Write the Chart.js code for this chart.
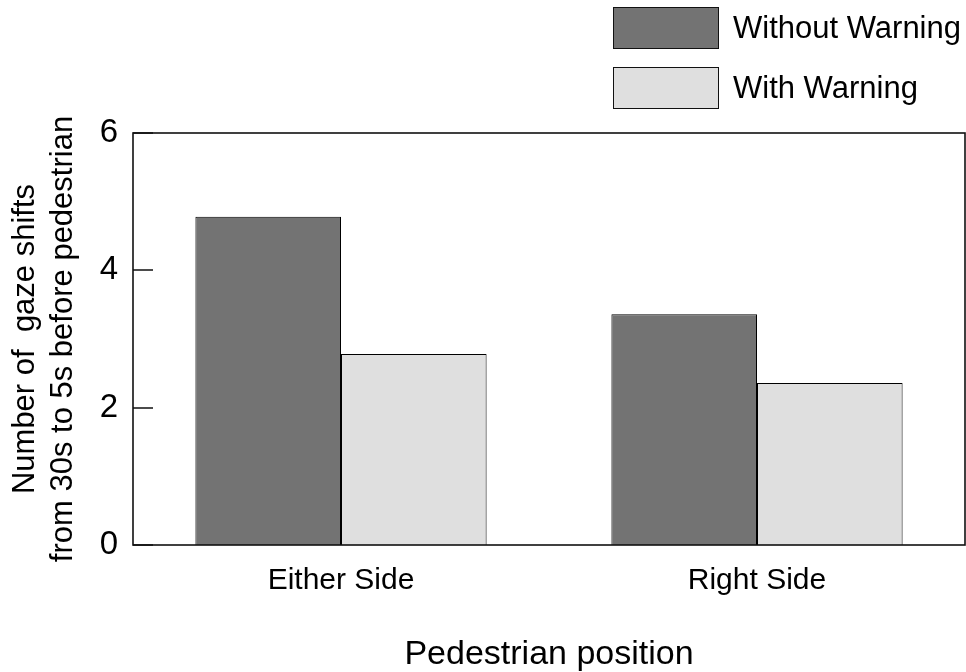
<!DOCTYPE html>
<html>
<head>
<meta charset="utf-8">
<script src="https://cdn.jsdelivr.net/npm/chart.js@4"></script>
<style>
  body { margin: 0; background: #fff; }
  canvas { display: block; }
</style>
</head>
<body>
<canvas id="chart" width="966" height="672"></canvas>
<script>
const categories = ['Either Side', 'Right Side'];
const withoutWarning = [4.78, 3.36];
const withWarning = [2.78, 2.36];
const yTicks = [0, 2, 4, 6];

const FONT = '"Liberation Sans", Arial, Helvetica, sans-serif';

// frame round the plot + short inward ticks on the left axis
const framePlugin = {
    id: 'frame',
    afterDatasetsDraw(chart) {
        const { ctx, chartArea: a, scales: { y } } = chart;
        ctx.save();
        ctx.strokeStyle = '#111';
        ctx.lineWidth = 1.6;
        ctx.strokeRect(a.left, a.top, a.right - a.left, a.bottom - a.top);
        ctx.beginPath();
        y.ticks.forEach(t => {
            const py = Math.round(y.getPixelForValue(t.value));
            ctx.moveTo(a.left, py);
            ctx.lineTo(a.left + 20, py);
        });
        ctx.stroke();
        ctx.restore();
    }
};

// stacked legend in the top right corner
const legendPlugin = {
    id: 'stackLegend',
    afterDraw(chart) {
        const ctx = chart.ctx;
        ctx.save();
        ctx.font = '31px ' + FONT;
        ctx.textBaseline = 'middle';
        chart.data.datasets.forEach((ds, i) => {
            const top = 7 + i * 60;
            ctx.fillStyle = ds.backgroundColor;
            ctx.fillRect(613, top, 105, 41);
            ctx.strokeStyle = '#111';
            ctx.lineWidth = 1;
            ctx.strokeRect(613.5, top + 0.5, 105, 41);
            ctx.fillStyle = '#000';
            ctx.fillText(ds.label, 733, top + 22);
        });
        ctx.restore();
    }
};

new Chart(document.getElementById('chart'), {
    type: 'bar',
    data: {
        labels: categories,
        datasets: [
            {
                label: 'Without Warning',
                data: withoutWarning,
                backgroundColor: '#737373',
                borderColor: '#000',
                borderWidth: 1
            },
            {
                label: 'With Warning',
                data: withWarning,
                backgroundColor: '#dfdfdf',
                borderColor: '#000',
                borderWidth: 1
            }
        ]
    },
    options: {
        responsive: false,
        animation: false,
        categoryPercentage: 0.7,
        barPercentage: 1,
        layout: { padding: { top: 133, right: 1, left: 0, bottom: 0 } },
        plugins: {
            legend: { display: false },
            tooltip: { enabled: false }
        },
        scales: {
            x: {
                grid: { display: false, drawTicks: false },
                border: { display: false },
                ticks: {
                    color: '#000',
                    font: { family: FONT, size: 30 },
                    padding: 18
                },
                title: {
                    display: true,
                    text: 'Pedestrian position',
                    color: '#000',
                    font: { family: FONT, size: 34, lineHeight: 1 },
                    padding: { top: 0, bottom: 0 }
                },
                afterFit(scale) { scale.height = 127; }
            },
            y: {
                min: 0,
                max: 6,
                grid: { display: false, drawTicks: false },
                border: { display: false },
                afterBuildTicks(scale) {
                    scale.ticks = yTicks.map(v => ({ value: v }));
                },
                ticks: {
                    color: '#000',
                    font: { family: FONT, size: 33 },
                    padding: 15
                },
                title: {
                    display: true,
                    text: ['Number of  gaze shifts', 'from 30s to 5s before pedestrian'],
                    color: '#000',
                    font: { family: FONT, size: 31, lineHeight: 1.22 },
                    padding: { top: 7, bottom: 0 }
                },
                afterFit(scale) { scale.width = 133; }
            }
        }
    },
    plugins: [framePlugin, legendPlugin]
});
</script>
</body>
</html>
